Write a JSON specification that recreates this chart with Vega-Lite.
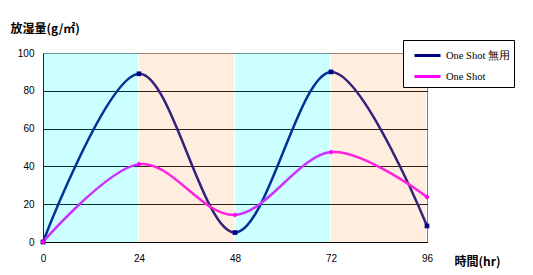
{
  "$schema": "https://vega.github.io/schema/vega-lite/v6.json",
  "width": 384,
  "height": 189,
  "autosize": {"type": "none"},
  "padding": {"left": 43, "top": 53, "right": 106, "bottom": 33},
  "background": "white",
  "config": {"view": {"stroke": "#808080", "strokeWidth": 1, "fill": "white"}, "font": "Liberation Sans"},
  "datasets": {
    "series": [
      {"hr": 0, "value": 0, "series": "One Shot 無用"},
      {"hr": 24, "value": 89, "series": "One Shot 無用"},
      {"hr": 48, "value": 5, "series": "One Shot 無用"},
      {"hr": 72, "value": 90, "series": "One Shot 無用"},
      {"hr": 96, "value": 8.5, "series": "One Shot 無用"},
      {"hr": 0, "value": 0, "series": "One Shot"},
      {"hr": 24, "value": 41.2, "series": "One Shot"},
      {"hr": 48, "value": 14.3, "series": "One Shot"},
      {"hr": 72, "value": 47.6, "series": "One Shot"},
      {"hr": 96, "value": 23.8, "series": "One Shot"}
    ],
    "bands": [
      {"start": 0, "end": 24, "band": "cool"},
      {"start": 24, "end": 48, "band": "warm"},
      {"start": 48, "end": 72, "band": "cool"},
      {"start": 72, "end": 96, "band": "warm"}
    ]
  },
  "layer": [
    {
      "data": {"name": "series"},
      "mark": {"type": "line", "interpolate": "cardinal", "strokeWidth": 2.5},
      "encoding": {
        "x": {
          "field": "hr", "type": "quantitative",
          "scale": {"domain": [0, 96], "nice": false, "zero": false},
          "axis": {
            "values": [0, 24, 48, 72, 96], "grid": false, "ticks": false,
            "domainColor": "black", "labelOverlap": false,
            "labelFontSize": 10, "labelColor": "black", "labelPadding": 11,
            "labelFlush": false, "labelAngle": 0,
            "title": "時間(hr)", "titleX": 411, "titleY": 19,
            "titleAlign": "left", "titleBaseline": "middle", "titleAngle": 0,
            "titleFont": "Noto Sans CJK JP", "titleFontSize": 12, "titleFontWeight": "bold", "titleColor": "black"
          }
        },
        "y": {
          "field": "value", "type": "quantitative",
          "scale": {"domain": [0, 100], "nice": false},
          "axis": {
            "values": [0, 20, 40, 60, 80, 100], "grid": true, "tickCount": 6,
            "gridColor": {"condition": {"test": "datum.value === 100", "value": "#808080"}, "value": "black"},
            "gridOpacity": 1, "labelOverlap": false,
            "ticks": false, "domainColor": "black",
            "labelFontSize": 10, "labelColor": "black", "labelPadding": 9,
            "title": "放湿量(g/㎡)", "titleX": -33, "titleY": -25,
            "titleAlign": "left", "titleBaseline": "middle", "titleAngle": 0,
            "titleFont": "Noto Sans CJK JP", "titleFontSize": 12, "titleFontWeight": "bold", "titleColor": "black"
          }
        },
        "color": {
          "field": "series", "type": "nominal",
          "scale": {"domain": ["One Shot 無用", "One Shot"], "range": ["#000080", "#ff00ff"]},
          "legend": {
            "orient": "none", "legendX": 360, "legendY": -13,
            "title": null, "fillColor": "white", "strokeColor": "black",
            "padding": 4, "symbolType": "M-1.3,0H1.3", "symbolStrokeWidth": 3, "symbolSize": 400,
            "symbolOffset": 9,
            "labelFont": "Liberation Serif", "labelFontSize": 10.5, "labelColor": "black",
            "labelExpr": "datum.label + '\u00a0\u00a0\u00a0\u00a0\u00a0\u00a0\u00a0\u00a0'",
            "labelOffset": 7, "rowPadding": 3
          }
        }
      }
    },
    {
      "data": {"name": "bands"},
      "mark": {"type": "rect", "opacity": 0.2, "x2Offset": -1},
      "encoding": {
        "x": {"field": "start", "type": "quantitative"},
        "x2": {"field": "end"},
        "fill": {
          "field": "band", "type": "nominal",
          "scale": {"domain": ["cool", "warm"], "range": ["#00ffff", "#ffaa5f"]},
          "legend": null
        }
      }
    },
    {
      "data": {"name": "series"},
      "transform": [{"filter": "datum.series === 'One Shot 無用'"}],
      "mark": {"type": "point", "filled": true, "shape": "square", "size": 22, "color": "#000080", "opacity": 1},
      "encoding": {
        "x": {"field": "hr", "type": "quantitative"},
        "y": {"field": "value", "type": "quantitative"}
      }
    },
    {
      "data": {"name": "series"},
      "transform": [{"filter": "datum.series === 'One Shot'"}],
      "mark": {"type": "point", "filled": true, "shape": "diamond", "size": 28, "color": "#ff00ff", "opacity": 1},
      "encoding": {
        "x": {"field": "hr", "type": "quantitative"},
        "y": {"field": "value", "type": "quantitative"}
      }
    }
  ]
}
